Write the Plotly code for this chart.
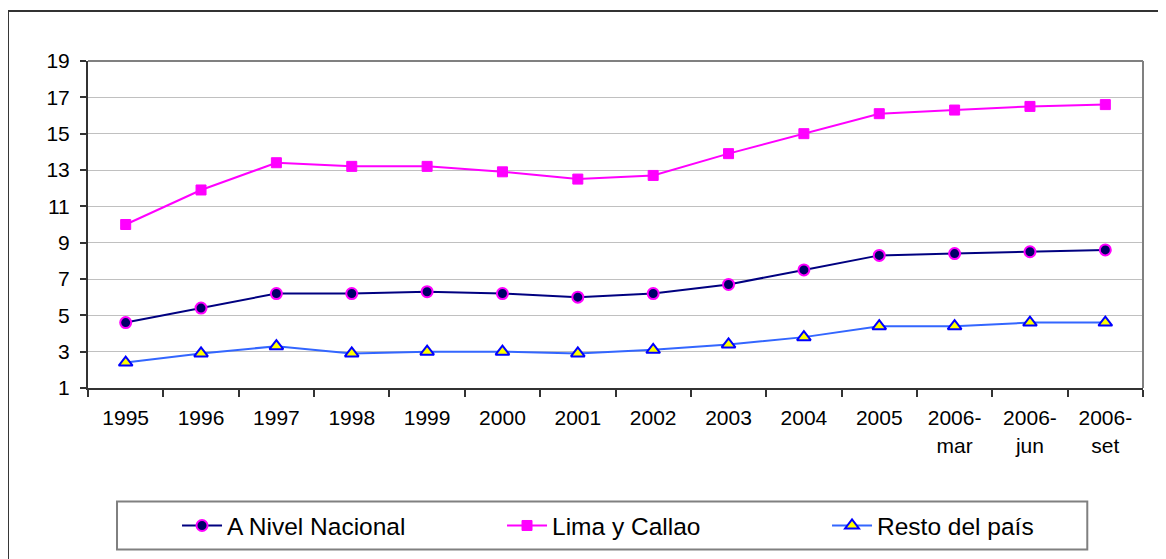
import plotly.graph_objects as go

categories = ["1995", "1996", "1997", "1998", "1999", "2000", "2001", "2002",
              "2003", "2004", "2005", "2006-<br>mar", "2006-<br>jun", "2006-<br>set"]
nacional = [4.6, 5.4, 6.2, 6.2, 6.3, 6.2, 6.0, 6.2, 6.7, 7.5, 8.3, 8.4, 8.5, 8.6]
lima = [10.0, 11.9, 13.4, 13.2, 13.2, 12.9, 12.5, 12.7, 13.9, 15.0, 16.1, 16.3, 16.5, 16.6]
resto = [2.4, 2.9, 3.3, 2.9, 3.0, 3.0, 2.9, 3.1, 3.4, 3.8, 4.4, 4.4, 4.6, 4.6]
y_ticks = [1, 3, 5, 7, 9, 11, 13, 15, 17, 19]

FONT = "Liberation Sans, Arial, sans-serif"

fig = go.Figure()
fig.add_trace(go.Scatter(
    x=categories, y=nacional, name="A Nivel Nacional", mode="lines+markers",
    line=dict(color="#000080", width=2),
    marker=dict(symbol="circle", size=11, color="#000066",
                line=dict(color="#FF00FF", width=2)),
))
fig.add_trace(go.Scatter(
    x=categories, y=lima, name="Lima y Callao", mode="lines+markers",
    line=dict(color="#FF00FF", width=2),
    marker=dict(symbol="square", size=10, color="#FF00FF",
                line=dict(color="#FF00FF", width=1)),
))
fig.add_trace(go.Scatter(
    x=categories, y=resto, name="Resto del país", mode="lines+markers",
    line=dict(color="#3366FF", width=2),
    marker=dict(symbol="triangle-up", size=12, color="#FFFF00",
                line=dict(color="#0000FF", width=2)),
))

# page body has an ~8px margin: work in page pixels and convert
OFF = 8
W, H = 1166 - OFF, 559 - OFF
L = 88 - OFF
T = 61 - OFF
R = W - (1142.7 - OFF)
B = H - (388.3 - OFF)
pw = W - L - R
ph = H - T - B

def px2x(px):
    return (px - OFF - L) / pw

def px2y(py):
    return (H - B - (py - OFF)) / ph

fig.update_layout(
    template="none",
    width=W, height=H,
    margin=dict(l=L, r=R, t=T, b=B, pad=0, autoexpand=False),
    paper_bgcolor="white", plot_bgcolor="white",
    font=dict(family=FONT, size=20, color="black"),
    showlegend=True,
    legend=dict(
        orientation="h", x=px2x(177), y=px2y(526), xanchor="left", yanchor="middle",
        borderwidth=0, bgcolor="rgba(0,0,0,0)",
        font=dict(family=FONT, size=24.5, color="black"),
        itemwidth=40, tracegroupgap=0,
        entrywidth=270, entrywidthmode="pixels",
    ),
    xaxis=dict(
        type="category", range=[-0.5, len(categories) - 0.5],
        showgrid=False, tickson="boundaries",
        ticks="outside", ticklen=7, tickcolor="#333333", tickwidth=1.5,
        showline=True, linecolor="#333333", linewidth=2,
        tickfont=dict(family=FONT, size=21, color="black"),
        ticklabelstandoff=10, zeroline=False, automargin=False,
    ),
    yaxis=dict(
        range=[1, 19], tickvals=y_ticks, showgrid=True, gridcolor="#C0C0C0", gridwidth=1,
        ticks="outside", ticklen=6, tickcolor="#333333", tickwidth=1.5,
        showline=True, linecolor="#333333", linewidth=2,
        tickfont=dict(family=FONT, size=21, color="black"),
        ticklabelstandoff=6, zeroline=False, automargin=False,
    ),
    shapes=[
        # plot-area top and right border (gray)
        dict(type="line", xref="paper", yref="paper", x0=0, x1=1, y0=1, y1=1,
             line=dict(color="#808080", width=2)),
        dict(type="line", xref="paper", yref="paper", x0=1, x1=1, y0=0, y1=1,
             line=dict(color="#808080", width=2)),
        # outer chart frame
        dict(type="rect", xref="paper", yref="paper",
             x0=px2x(8), x1=px2x(1180), y0=px2y(11), y1=px2y(580),
             line=dict(color="#333333", width=2), layer="below"),
        # legend box
        dict(type="rect", xref="paper", yref="paper",
             x0=px2x(117), x1=px2x(1087), y0=px2y(502), y1=px2y(550),
             line=dict(color="#808080", width=2), layer="below"),
    ],
)

fig.write_html("out.html")
